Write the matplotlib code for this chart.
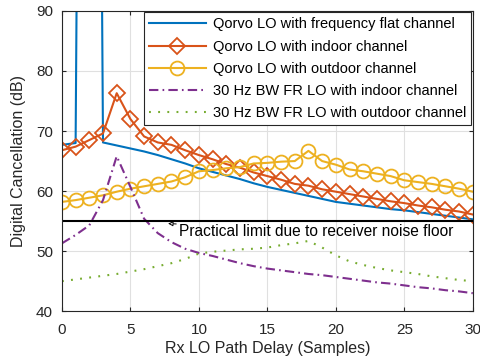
import numpy as np
import matplotlib
matplotlib.use("Agg")
import matplotlib.pyplot as plt

plt.rcParams['font.family'] = ['Liberation Sans', 'DejaVu Sans']

# delays 0..30 samples
delay = np.arange(31)

# Qorvo LO, frequency flat channel (x=2 goes far off the top)
flat = [67.7, 68.0, 400.0, 68.1, 67.6, 67.1, 66.6, 66.0, 65.3, 64.6,
        63.8, 63.2, 62.6, 62.0, 61.3, 60.7, 60.2, 59.7, 59.2, 58.7,
        58.2, 57.9, 57.6, 57.3, 57.0, 56.8, 56.5, 56.2, 55.9, 55.6, 55.3]

# Qorvo LO, indoor channel
indoor = [66.8, 67.4, 68.5, 69.6, 76.3, 72.0, 69.1, 68.1, 67.7, 66.8,
          66.0, 65.3, 64.5, 63.9, 63.1, 62.5, 61.9, 61.2, 60.9, 60.3,
          59.9, 59.5, 59.1, 58.7, 58.3, 58.0, 57.6, 57.3, 56.9, 56.6, 56.1]

# Qorvo LO, outdoor channel
outdoor = [58.2, 58.5, 58.9, 59.3, 59.9, 60.4, 60.8, 61.2, 61.6, 62.3,
           63.3, 63.5, 63.8, 64.0, 64.6, 64.7, 64.9, 65.0, 66.7, 65.0,
           64.4, 63.6, 63.3, 62.9, 62.5, 61.8, 61.5, 61.2, 60.8, 60.4, 59.9]

# 30 Hz BW FR LO, indoor channel
fr_indoor = [51.3, 52.7, 54.3, 58.5, 65.8, 60.7, 55.4, 53.0, 51.5, 50.4,
             49.7, 49.2, 48.6, 48.0, 47.5, 47.1, 46.8, 46.5, 46.2, 46.0,
             45.7, 45.4, 45.1, 44.8, 44.6, 44.3, 44.0, 43.8, 43.5, 43.3, 43.0]

# 30 Hz BW FR LO, outdoor channel
fr_outdoor = [45.0, 45.3, 45.6, 45.9, 46.2, 46.6, 47.0, 47.5, 48.0, 48.7,
              49.6, 49.9, 50.1, 50.3, 50.4, 50.6, 51.0, 51.3, 51.7, 50.6,
              49.3, 48.3, 47.7, 47.2, 46.8, 46.5, 46.2, 45.8, 45.5, 45.2, 45.0]

noise_floor = 55

fig = plt.figure(figsize=(4.8, 3.64), dpi=100)
ax = fig.add_axes([0.129, 0.145, 0.856, 0.825])

ax.plot(delay, flat, color='#0072BD', lw=1.5,
        label='Qorvo LO with frequency flat channel')
ax.plot(delay, indoor, color='#D95319', lw=1.5, marker='D', ms=7.8,
        mfc='none', mew=1.3, label='Qorvo LO with indoor channel')
ax.plot(delay, outdoor, color='#EDB120', lw=1.5, marker='o', ms=10,
        mfc='none', mew=1.3, label='Qorvo LO with outdoor channel')
ax.plot(delay, fr_indoor, color='#7E2F8E', lw=1.5,
        ls=(0, (4.5, 2, 0.8, 2)), label='30 Hz BW FR LO with indoor channel')
ax.plot(delay, fr_outdoor, color='#77AC30', lw=1.5,
        ls=(0, (0.9, 3.5)), label='30 Hz BW FR LO with outdoor channel')
ax.plot([0, 30], [noise_floor, noise_floor], color='black', lw=1.5)

ax.annotate('Practical limit due to receiver noise floor',
            xy=(7.75, 54.6), xytext=(8.55, 53.3), fontsize=11.2,
            va='center', ha='left',
            arrowprops=dict(arrowstyle='-|>', fc='white', ec='black',
                            lw=0.7, mutation_scale=7, shrinkA=0, shrinkB=0))

ax.set_xlim(0, 30)
ax.set_ylim(40, 90)
ax.set_xticks(range(0, 31, 5))
ax.set_yticks(range(40, 91, 10))
ax.grid(True, color='#e0e0e0', lw=0.8)
ax.set_axisbelow(True)
ax.tick_params(direction='in', top=True, right=True, labelsize=11,
               colors='#262626', length=3)
ax.tick_params(axis='x', pad=8.5)
ax.tick_params(axis='y', pad=6.5)
for s in ax.spines.values():
    s.set_color('#262626')
    s.set_linewidth(0.8)

ax.set_xlabel('Rx LO Path Delay (Samples)', fontsize=11.5, color='#262626',
              labelpad=3)
ax.set_ylabel('Digital Cancellation (dB)', fontsize=11.5, color='#262626',
              labelpad=7)

leg = ax.legend(loc='upper right', fontsize=10.5, frameon=True, fancybox=False,
                framealpha=1, edgecolor='#262626', borderaxespad=0.1,
                handlelength=3.9, labelspacing=0.56, borderpad=0.35,
                handletextpad=0.5)
leg.get_frame().set_linewidth(0.8)

fig.savefig('out.png', dpi=100)
